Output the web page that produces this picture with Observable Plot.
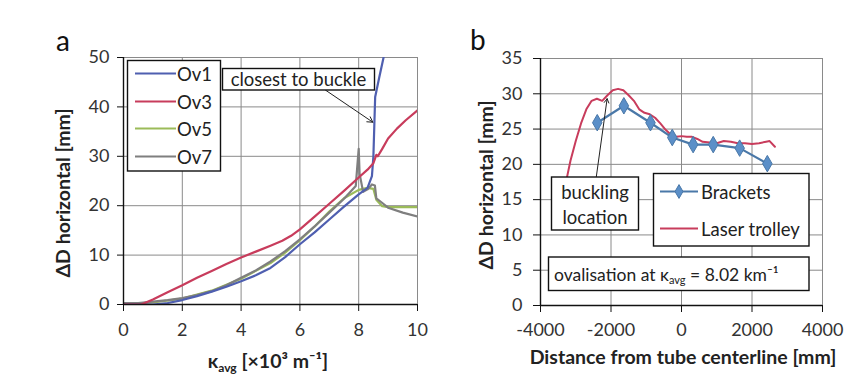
<!DOCTYPE html>
<html><head><meta charset="utf-8">
<script src="https://cdn.jsdelivr.net/npm/d3@7"></script>
<script src="https://cdn.jsdelivr.net/npm/@observablehq/plot@0.6"></script>
<style>
html,body{margin:0;padding:0;background:#fff;}
#wrap{position:relative;width:844px;height:378px;overflow:hidden;font-family:Lato,sans-serif;}
#wrap svg{position:absolute;top:0;}
</style></head><body><div id="wrap"></div>
<script>
// ---------- Panel a data ----------
const kappaTicks = [0, 2, 4, 6, 8, 10];
const dTicksA = [0, 10, 20, 30, 40, 50];
const seriesA = ["Ov1", "Ov3", "Ov5", "Ov7"];

const ov1K = [0, 0.5, 1, 1.5, 2, 2.5, 3, 3.5, 4, 4.5, 5, 5.5, 6, 6.5, 7, 7.5, 8, 8.3, 8.45, 8.5, 8.53, 8.56, 8.7, 8.9];
const ov1D = [0, 0, 0, 0.3, 0.9, 1.7, 2.6, 3.6, 4.7, 5.9, 7.4, 9.6, 12.2, 14.6, 17.2, 19.8, 22.3, 23.6, 26.0, 30.0, 36.0, 42.0, 46.0, 51.5];

const ov3K = [0, 0.6, 1, 1.5, 2, 2.5, 3, 3.5, 4, 4.5, 5, 5.4, 5.7, 6, 6.5, 7, 7.5, 8, 8.3, 8.5, 8.6, 8.65, 8.8, 9, 9.3, 9.6, 10];
const ov3D = [0, 0, 1.0, 2.5, 3.9, 5.4, 6.8, 8.2, 9.5, 10.7, 11.9, 12.9, 13.9, 15.2, 17.8, 20.4, 23.0, 25.7, 27.3, 28.6, 30.3, 30.0, 31.5, 33.6, 35.6, 37.3, 39.3];

const ov5K = [0, 1, 2, 3, 4, 5, 5.5, 6, 6.5, 7, 7.5, 8, 8.3, 8.5, 8.6, 8.8, 9, 10];
const ov5D = [0.1, 0.4, 1.2, 2.8, 5.2, 8.4, 10.5, 13.0, 15.8, 18.8, 21.5, 23.2, 23.6, 23.4, 21.2, 19.9, 19.7, 19.7];

const ov7K = [0, 0.5, 1, 1.5, 2, 2.5, 3, 3.5, 4, 4.5, 5, 5.5, 6, 6.5, 7, 7.5, 7.9, 8.0, 8.03, 8.15, 8.3, 8.45, 8.55, 8.6, 8.75, 9, 9.5, 10];
const ov7D = [0.3, 0.3, 0.6, 0.9, 1.3, 1.9, 2.7, 3.9, 5.4, 6.9, 8.7, 10.8, 13.2, 15.8, 18.6, 21.4, 24.0, 31.5, 26.5, 22.8, 23.3, 24.3, 24.1, 21.5, 20.8, 19.6, 18.6, 17.8];

// annotation arrow (data coordinates)
const arrowA = {x1: 6.87, y1: 43.4, x2: 8.48, y2: 36.9};

// ---------- Panel b data ----------
const posTicks = [-4000, -2000, 0, 2000, 4000];
const dTicksB = [0, 5, 10, 15, 20, 25, 30, 35];
const seriesB = ["Brackets", "Laser trolley"];

const bracketPos = [-2390, -1635, -880, -262, 330, 900, 1650, 2435];
const bracketD = [25.9, 28.3, 25.9, 23.8, 22.8, 22.8, 22.3, 20.1];

const laserPos = [-3290, -3150, -3000, -2850, -2700, -2550, -2400, -2250, -2100, -1950, -1800, -1650, -1500, -1350, -1200, -1050, -900, -750, -600, -450, -300, -150, 0, 150, 300, 450, 600, 800, 1000, 1200, 1400, 1600, 1800, 2000, 2200, 2400, 2500, 2650];
const laserD = [17.2, 20.5, 23.3, 25.8, 27.8, 29.0, 29.3, 29.0, 29.8, 30.5, 30.7, 30.5, 29.8, 29.0, 27.8, 27.3, 27.1, 26.6, 25.8, 24.9, 24.2, 23.9, 24.0, 23.9, 23.9, 23.6, 23.2, 23.1, 23.0, 23.3, 23.2, 23.0, 23.0, 22.9, 23.0, 23.2, 23.3, 22.5];

const arrowB = {x1: -2440, y1: 17.4, x2: -2110, y2: 29.3};

// ---------- styles ----------
const colA = {Ov1: "#4f5fb0", Ov3: "#c83c5c", Ov5: "#9bbb59", Ov7: "#7f7f7f"};
const colBrackets = "#4a78a8", colBracketFill = "#5b8fc8", colLaser = "#c83c5c";
const gridColor = "#8a8a8a";
const tickSizePx = 18;
const labelSize = "18.5px";
const titleSize = "19.5px";

const fmt = d => (d < 0 ? "-" + Math.abs(d) : String(d));
const zip = (xs, ys) => xs.map((x, i) => ({x, y: ys[i]}));
const wrap = document.getElementById("wrap");

// ---------- Panel a ----------
const plotA = Plot.plot({
  width: 430, height: 378,
  marginLeft: 123, marginRight: 13, marginTop: 57, marginBottom: 74,
  style: {fontFamily: "Lato, sans-serif", color: "#333", background: "transparent"},
  x: {domain: [0, 10]},
  y: {domain: [0, 50]},
  marks: [
    Plot.gridX(kappaTicks, {stroke: gridColor, strokeOpacity: 1}),
    Plot.gridY(dTicksA, {stroke: gridColor, strokeOpacity: 1}),
    Plot.line(zip(ov5K, ov5D), {x: "x", y: "y", stroke: colA.Ov5, strokeWidth: 2.2, clip: true}),
    Plot.line(zip(ov7K, ov7D), {x: "x", y: "y", stroke: colA.Ov7, strokeWidth: 2.2, clip: true}),
    Plot.line(zip(ov1K, ov1D), {x: "x", y: "y", stroke: colA.Ov1, strokeWidth: 2.2, clip: true}),
    Plot.line(zip(ov3K, ov3D), {x: "x", y: "y", stroke: colA.Ov3, strokeWidth: 2.2, clip: true}),
    Plot.ruleX([0], {stroke: "#111", strokeWidth: 1.4}),
    Plot.ruleY([0], {stroke: "#111", strokeWidth: 1.4}),
    Plot.axisX({ticks: kappaTicks, tickFormat: fmt, tickSize: 7, tickPadding: 12, label: null, stroke: "#111", fontSize: tickSizePx}),
    Plot.axisY({ticks: dTicksA, tickFormat: fmt, tickSize: 6, tickPadding: 8, label: null, stroke: "#111", fontSize: tickSizePx}),
    Plot.arrow([arrowA], {x1: "x1", y1: "y1", x2: "x2", y2: "y2", stroke: "#222", strokeWidth: 1, headLength: 9, bend: 0})
  ]
});
plotA.style.left = "0px";
wrap.appendChild(plotA);

// ---------- Panel b ----------
const plotB = Plot.plot({
  width: 414, height: 378,
  marginLeft: 110, marginRight: 22, marginTop: 58, marginBottom: 73,
  style: {fontFamily: "Lato, sans-serif", color: "#333", background: "transparent"},
  x: {domain: [-4000, 4000]},
  y: {domain: [0, 35]},
  marks: [
    Plot.gridX(posTicks, {stroke: gridColor, strokeOpacity: 1}),
    Plot.gridY(dTicksB, {stroke: gridColor, strokeOpacity: 1}),
    Plot.line(zip(laserPos, laserD), {x: "x", y: "y", stroke: colLaser, strokeWidth: 2}),
    Plot.line(zip(bracketPos, bracketD), {x: "x", y: "y", stroke: colBrackets, strokeWidth: 2.2}),
    Plot.dot(zip(bracketPos, bracketD), {x: "x", y: "y", symbol: "diamond", r: 5, fill: colBracketFill, stroke: colBrackets, strokeWidth: 1}),
    Plot.ruleX([-4000], {stroke: "#111", strokeWidth: 1.4}),
    Plot.ruleY([0], {stroke: "#111", strokeWidth: 1.4}),
    Plot.axisX({ticks: posTicks, tickFormat: fmt, tickSize: 7, tickPadding: 11, label: null, stroke: "#111", fontSize: tickSizePx}),
    Plot.axisY({ticks: dTicksB, tickFormat: fmt, tickSize: 7, tickPadding: 11, label: null, stroke: "#111", fontSize: tickSizePx}),
    Plot.arrow([arrowB], {x1: "x1", y1: "y1", x2: "x2", y2: "y2", stroke: "#222", strokeWidth: 1, headLength: 7, bend: 0})
  ]
});
plotB.style.left = "430px";
wrap.appendChild(plotB);

// ---------- annotations, legends, titles ----------
function box(svg, x, y, w, h) {
  svg.append("rect").attr("x", x).attr("y", y).attr("width", w).attr("height", h)
    .attr("fill", "white").attr("stroke", "#111").attr("stroke-width", 1.4);
}
function txt(svg, x, y, s, opts = {}) {
  return svg.append("text").attr("x", x).attr("y", y).text(s)
    .attr("font-family", "Lato, sans-serif").attr("font-size", opts.size || labelSize)
    .attr("font-weight", opts.weight || "normal").attr("fill", opts.fill || "#222")
    .attr("text-anchor", opts.anchor || "start");
}

const sA = d3.select(plotA);
// legend a
box(sA, 127.5, 60.5, 93, 110.5);
const rowsA = [73.5, 101.5, 128.5, 156.5];
seriesA.forEach((s, i) => {
  sA.append("line").attr("x1", 135).attr("x2", 176).attr("y1", rowsA[i]).attr("y2", rowsA[i])
    .attr("stroke", colA[s]).attr("stroke-width", 2.2);
  txt(sA, 177, rowsA[i] + 7, s);
});
// "closest to buckle"
box(sA, 222.5, 68.5, 152, 21.5);
txt(sA, 298.5, 85.5, "closest to buckle", {anchor: "middle"});
// panel label
txt(sA, 56, 51, "a", {size: "28px", fill: "#111"});
// axis titles
const xtA = txt(sA, 268, 368, "κ", {anchor: "middle", weight: "bold", size: titleSize});
xtA.append("tspan").attr("font-size", "12px").attr("dy", "4").text("avg");
xtA.append("tspan").attr("dy", "-4").text(" [×10³ m⁻¹]");
txt(sA, 0, 0, "ΔD horizontal [mm]", {anchor: "middle", weight: "bold", size: titleSize})
  .attr("transform", "translate(70,193) rotate(-90)");

const sB = d3.select(plotB);
// legend b
box(sB, 223.5, 173.5, 155.5, 72.5);
sB.append("line").attr("x1", 230).attr("x2", 268).attr("y1", 191.5).attr("y2", 191.5)
  .attr("stroke", colBrackets).attr("stroke-width", 2.2);
sB.append("path").attr("d", d3.symbol(d3.symbolDiamond, 55)()).attr("transform", "translate(249,191.5)")
  .attr("fill", colBracketFill).attr("stroke", colBrackets);
txt(sB, 271, 198.5, seriesB[0]);
sB.append("line").attr("x1", 230).attr("x2", 268).attr("y1", 228.5).attr("y2", 228.5)
  .attr("stroke", colLaser).attr("stroke-width", 2.2);
txt(sB, 271, 235.5, seriesB[1]);
// buckling location
box(sB, 121.5, 177, 87, 53);
txt(sB, 165, 198.5, "buckling", {anchor: "middle"});
txt(sB, 165, 223.5, "location", {anchor: "middle"});
// ovalisation
box(sB, 118.5, 257, 260.5, 33.5);
const ov = txt(sB, 124, 280.5, "ovalisation at κ", {size: "17.5px"});
ov.append("tspan").attr("font-size", "11px").attr("dy", "3").text("avg");
ov.append("tspan").attr("dy", "-3").text(" = 8.02 km⁻¹");
// panel label
txt(sB, 40, 50, "b", {size: "28px", fill: "#111"});
// titles
txt(sB, 253, 364, "Distance from tube centerline [mm]", {anchor: "middle", weight: "bold", size: titleSize});
txt(sB, 0, 0, "ΔD horizontal [mm]", {anchor: "middle", weight: "bold", size: titleSize})
  .attr("transform", "translate(63,185) rotate(-90)");
</script></body></html>
